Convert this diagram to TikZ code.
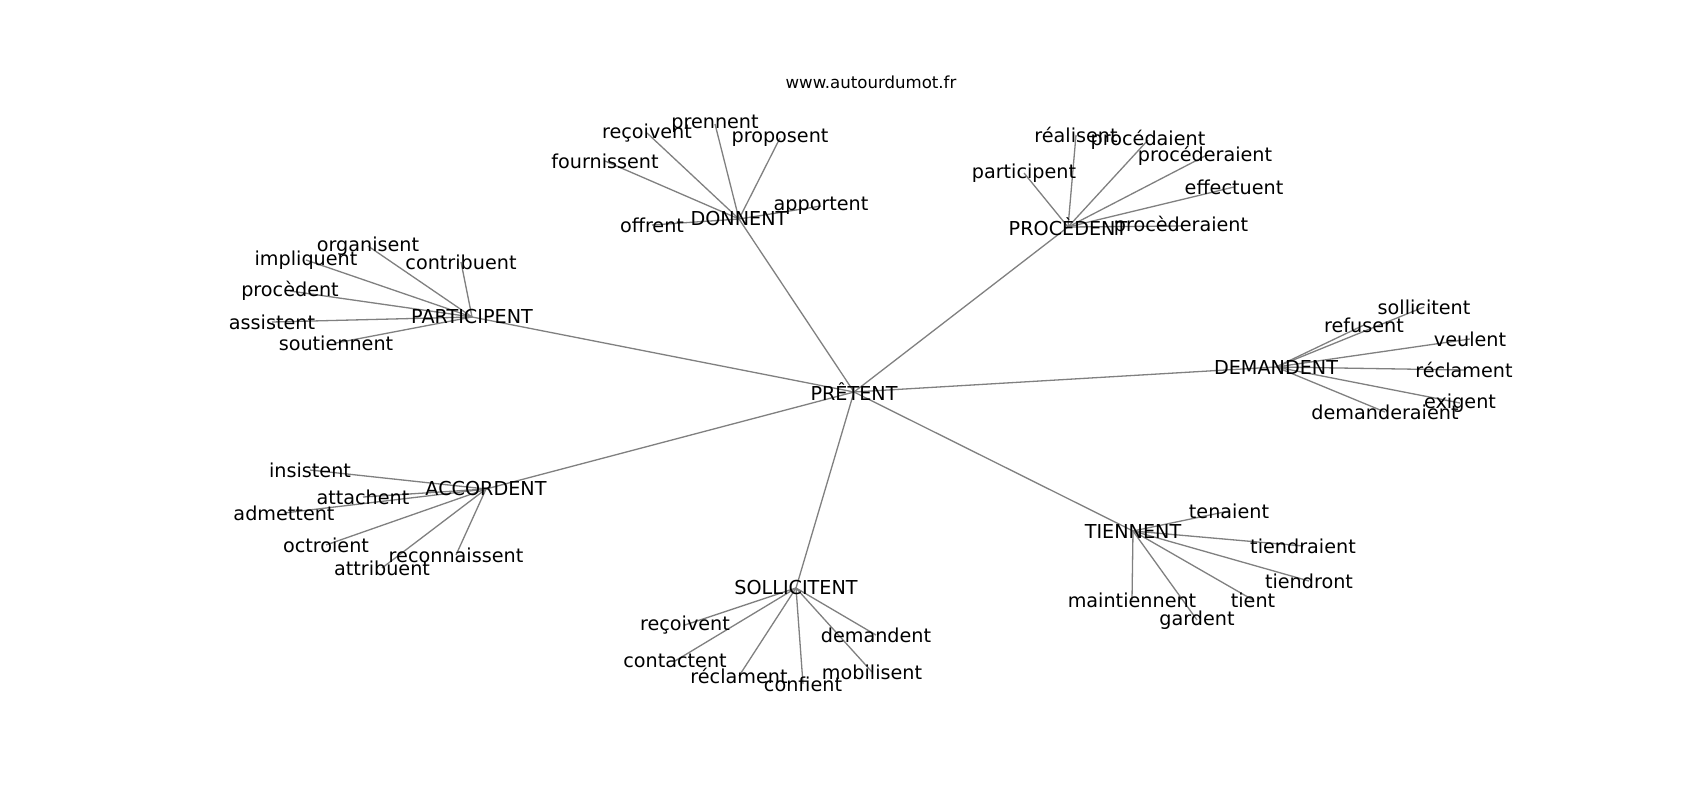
\documentclass[tikz,border=0pt]{standalone}
\usepackage{fontspec}
\setmainfont{DejaVu Sans}
\usetikzlibrary{backgrounds}
\begin{document}
\begin{tikzpicture}[x=1pt,y=-1pt,
  lbl/.style={inner sep=0pt,text=black,font=\fontsize{19.2}{23}\selectfont},
  ttl/.style={inner sep=0pt,text=black,font=\fontsize{16.6}{20}\selectfont},
  edge/.style={draw=gray,line width=1.3pt}]
\useasboundingbox (0,0) rectangle (1700,800);
\node[ttl] (title) at (871,82) {www.autourdumot.fr};
% hubs
\node[lbl] (pretent) at (854,392) {PRÊTENT};
\node[lbl] (donnent) at (739,219) {DONNENT};
\node[lbl] (procedent) at (1068,227) {PROCÈDENT};
\node[lbl] (participent) at (472,317) {PARTICIPENT};
\node[lbl] (demandent) at (1276,367) {DEMANDENT};
\node[lbl] (accordent) at (486,489) {ACCORDENT};
\node[lbl] (sollicitent) at (796,588) {SOLLICITENT};
\node[lbl] (tiennent) at (1133,531) {TIENNENT};
% DONNENT leaves
\node[lbl] (d1) at (652,225) {offrent};
\node[lbl] (d2) at (821,206) {apportent};
\node[lbl] (d3) at (605,161) {fournissent};
\node[lbl] (d4) at (647,133) {reçoivent};
\node[lbl] (d5) at (715,124) {prennent};
\node[lbl] (d6) at (780,138) {proposent};
% PROCEDENT leaves
\node[lbl] (p1) at (1076,135) {réalisent};
\node[lbl] (p2) at (1148,140) {procédaient};
\node[lbl] (p3) at (1205,156) {procéderaient};
\node[lbl] (p4) at (1024,173) {participent};
\node[lbl] (p5) at (1234,187) {effectuent};
\node[lbl] (p6) at (1181,226) {procèderaient};
% PARTICIPENT leaves
\node[lbl] (a1) at (368,246) {organisent};
\node[lbl] (a2) at (306,260) {impliquent};
\node[lbl] (a3) at (461,262) {contribuent};
\node[lbl] (a4) at (290,291) {procèdent};
\node[lbl] (a5) at (272,322) {assistent};
\node[lbl] (a6) at (336,343) {soutiennent};
% DEMANDENT leaves
\node[lbl] (m1) at (1424,307) {sollicitent};
\node[lbl] (m2) at (1364,325) {refusent};
\node[lbl] (m3) at (1470,339) {veulent};
\node[lbl] (m4) at (1464,370) {réclament};
\node[lbl] (m5) at (1460,403) {exigent};
\node[lbl] (m6) at (1385,412) {demanderaient};
% ACCORDENT leaves
\node[lbl] (c1) at (310,470) {insistent};
\node[lbl] (c2) at (363,497) {attachent};
\node[lbl] (c3) at (284,513) {admettent};
\node[lbl] (c4) at (326,545) {octroient};
\node[lbl] (c5) at (456,555) {reconnaissent};
\node[lbl] (c6) at (382,568) {attribuent};
% SOLLICITENT leaves
\node[lbl] (s1) at (685,625) {reçoivent};
\node[lbl] (s2) at (876,635) {demandent};
\node[lbl] (s3) at (675,661) {contactent};
\node[lbl] (s4) at (739,676) {réclament};
\node[lbl] (s5) at (872,672) {mobilisent};
\node[lbl] (s6) at (803,684) {confient};
% TIENNENT leaves
\node[lbl] (t1) at (1229,511) {tenaient};
\node[lbl] (t2) at (1303,546) {tiendraient};
\node[lbl] (t3) at (1309,581) {tiendront};
\node[lbl] (t4) at (1132,600) {maintiennent};
\node[lbl] (t5) at (1253,600) {tient};
\node[lbl] (t6) at (1197,620) {gardent};
% edges (behind labels)
\begin{scope}[on background layer]
\fill[white] (0,0) rectangle (1700,800);
\foreach \h in {donnent,procedent,participent,demandent,accordent,sollicitent,tiennent}
  \draw[edge] (pretent.center) -- (\h.center);
\foreach \l in {1,...,6} {
  \draw[edge] (donnent.center) -- (d\l.center);
  \draw[edge] (procedent.center) -- (p\l.center);
  \draw[edge] (participent.center) -- (a\l.center);
  \draw[edge] (demandent.center) -- (m\l.center);
  \draw[edge] (accordent.center) -- (c\l.center);
  \draw[edge] (sollicitent.center) -- (s\l.center);
  \draw[edge] (tiennent.center) -- (t\l.center);
}
\end{scope}
\end{tikzpicture}
\end{document}
